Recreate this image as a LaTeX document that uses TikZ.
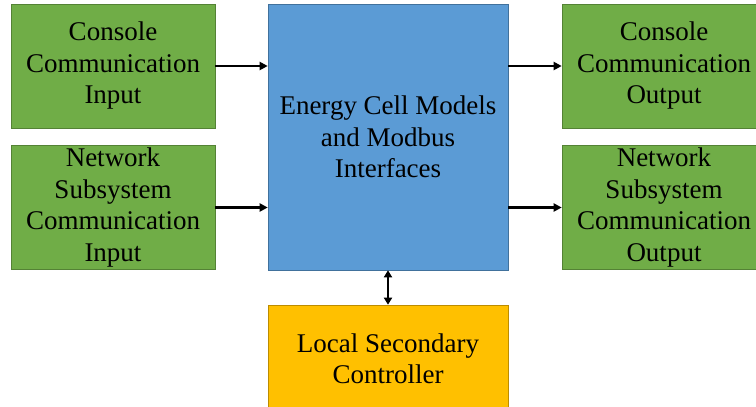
\documentclass[tikz,border=0pt]{standalone}
\usepackage{fontspec}
\setmainfont{Liberation Serif}
\usepackage{xcolor}
\usetikzlibrary{arrows.meta,positioning}
\definecolor{cellgreen}{HTML}{70AD47}
\definecolor{greenedge}{HTML}{548235}
\definecolor{cellblue}{HTML}{5B9BD5}
\definecolor{blueedge}{HTML}{41719C}
\definecolor{cellorange}{HTML}{FFC000}
\definecolor{orangeedge}{HTML}{BC8C00}
\tikzset{
  block/.style={draw,line width=0.6pt,align=center,inner sep=2pt,
    font=\fontsize{27}{31.5}\selectfont},
  iobox/.style={block,fill=cellgreen,draw=greenedge,
    minimum width=204pt,minimum height=124pt},
  corebox/.style={block,fill=cellblue,draw=blueedge,
    minimum width=240pt,minimum height=266pt},
  ctrlbox/.style={block,fill=cellorange,draw=orangeedge,
    minimum width=240pt,minimum height=108pt},
  link/.style={-{Triangle[length=8pt,width=8pt]},line width=2.4pt},
  duplex/.style={{Triangle[length=7pt,width=8pt]}-{Triangle[length=7pt,width=8pt]},line width=2.4pt}
}

\begin{document}
\begin{tikzpicture}[x=1pt,y=-1pt]
  \useasboundingbox (0,0) rectangle (756,407);
  \clip (0,0) rectangle (756,407);
  \fill[white] (0,0) rectangle (756,407);
  % blocks
  \node[iobox] (con_in) at (113,66) {Console\\Communication\\Input};
  \node[iobox] (net_in) at (113,207.5) {Network\\Subsystem\\Communication\\Input};
  \node[corebox] (cells) at (388,137) {Energy Cell Models\\and Modbus\\Interfaces};
  \node[iobox] (con_out) at (664,66) {Console\\Communication\\Output};
  \node[iobox] (net_out) at (664,207.5) {Network\\Subsystem\\Communication\\Output};
  \node[ctrlbox] (lsc) at (388,359) {Local Secondary\\Controller};
  % connectors
  \draw[link] (con_in.east) -- (con_in.east -| cells.west);
  \draw[link] (net_in.east) -- (net_in.east -| cells.west);
  \draw[link] (cells.east |- con_out.west) -- (con_out.west);
  \draw[link] (cells.east |- net_out.west) -- (net_out.west);
  \draw[duplex] (cells.south) -- (lsc.north);
\end{tikzpicture}
\end{document}
